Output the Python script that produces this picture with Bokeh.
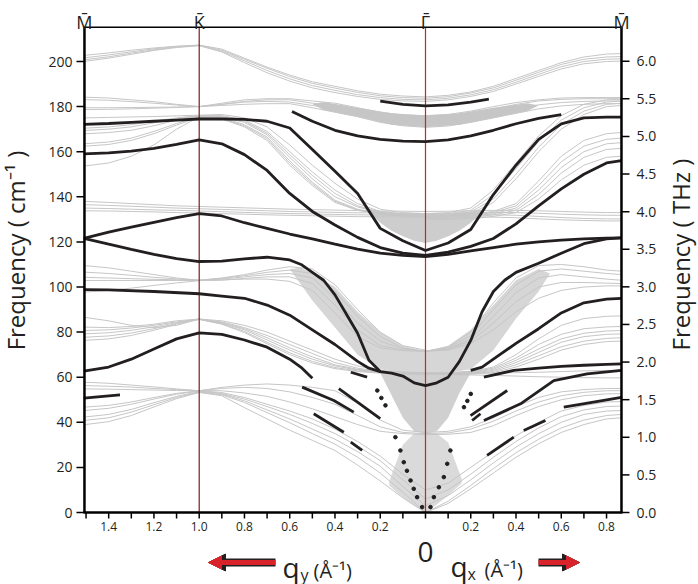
import math
from bokeh.plotting import figure
from bokeh.models import Range1d, Arrow, NormalHead
from bokeh.core.properties import value
from bokeh.embed import file_html
from bokeh.resources import INLINE

# ---------------- data ----------------
XL = [-1.51, -1.4, -1.3, -1.2, -1.1, -1.0, -0.9, -0.8, -0.7, -0.6, -0.5, -0.4, -0.3, -0.2, -0.1, 0.0]
XR = [0.0, 0.1, 0.2, 0.3, 0.4, 0.5, 0.6, 0.7, 0.8, 0.866]

top_labels = ["M\u0304", "K\u0304", "\u0393\u0304", "M\u0304"]
top_label_x = [-1.507, -1.0, 0.0, 0.866]
cm_ticks = [0, 20, 40, 60, 80, 100, 120, 140, 160, 180, 200]
thz_ticks = [0.0, 0.5, 1.0, 1.5, 2.0, 2.5, 3.0, 3.5, 4.0, 4.5, 5.0, 5.5, 6.0]
q_ticks = [round(i * 0.1, 1) for i in range(-15, 9)]

g_top_L = [
    [202.7, 203.8, 205, 206, 206.8, 207.3, 205.5, 201.5, 197.5, 194, 191, 189, 187, 185.5, 184.7, 184.3],
    [201.6, 202.9, 204.3, 205.6, 206.6, 207.2, 205, 201, 197, 193.3, 190.3, 188.2, 186.3, 184.8, 184, 183.7],
    [200.7, 202.1, 203.7, 205.2, 206.4, 207.1, 204.6, 200.3, 196, 192.3, 189.3, 187.2, 185.3, 184, 183.2, 183],
    [200, 201.5, 203.2, 204.9, 206.2, 207, 204.2, 199.5, 195, 191.3, 188.3, 186.2, 184.5, 183.2, 182.5, 182.3],
]
g_top_R = [
    [184.3, 185, 186.5, 189, 192.5, 196, 199.5, 202, 203.3, 203.5],
    [183.7, 184.4, 186, 188.3, 191.7, 195.2, 198.7, 201, 202, 202.2],
    [183, 183.7, 185.2, 187.5, 190.8, 194.3, 197.7, 200, 201, 201.2],
    [182.3, 183, 184.5, 186.7, 190, 193.4, 196.7, 199, 200, 200.2],
]
g2_L = [
    [184.2, 183.8, 183, 182.2, 181, 180, 181.5, 183, 183.5, 183.5, 182.5, 181.5, 179.5, 177.5, 176.3, 176],
    [183.1, 182.8, 182.2, 181.5, 180.7, 180, 181, 182.3, 183, 183, 181.5, 180.5, 178.5, 176.5, 175.2, 175],
    [179.5, 179.5, 179.6, 179.7, 179.8, 180, 181, 182, 182.3, 182, 180.5, 179, 177, 175, 173.5, 173],
    [178.7, 178.8, 179, 179.3, 179.6, 180, 180.5, 181, 181.3, 181.3, 179.5, 177.5, 175.5, 173, 171.5, 170.8],
]
g2_R = [
    [176, 176.5, 178, 180, 181.8, 183, 183.8, 184, 184, 184],
    [175, 175.5, 177, 179, 181, 182.5, 183.2, 183.5, 183.5, 183.5],
    [173, 173.6, 175, 177, 179, 180.8, 181.8, 182.3, 182.5, 182.5],
    [170.8, 171.4, 173, 175, 177, 179, 180.3, 181, 181.3, 181.3],
]
g3_L = [
    [175, 175.2, 175.4, 175.6, 175.9, 176.2, 176.5, 175, 171, 163, 154, 146, 139, 134.5, 133, 132.5],
    [170.4, 171, 172, 173.5, 175, 176, 176, 174, 169, 160, 151, 143, 137, 133.5, 132.5, 132],
    [169.4, 170, 171, 172.8, 174.6, 175.9, 175.6, 173.5, 168.2, 158.7, 149.5, 141.5, 136, 133.2, 132.2, 131.8],
    [167.9, 168.5, 169.5, 171.5, 174, 175.8, 175.5, 173, 167.5, 157.5, 148, 140, 135.5, 133, 132, 131.7],
    [163.5, 164.3, 166, 169, 172.5, 175.5, 175, 172, 166.5, 156, 146.5, 138.5, 134.5, 132.5, 131.7, 131.3],
    [162.4, 163.2, 165, 168, 171.8, 175.3, 174.8, 171.5, 165.8, 155, 145.8, 138, 134.2, 132.4, 131.6, 131.2],
    [153.6, 155, 158, 163, 170, 175.5, 174.5, 171, 165, 154, 145, 137.5, 134, 132.3, 131.5, 131],
]
g3_R = [
    [132.5, 133, 135, 143, 155, 167, 176, 181, 183, 183.3],
    [132, 132.5, 134, 141, 152.5, 164.5, 174, 179.5, 182, 182.5],
    [131.7, 132, 133.3, 139, 150, 162, 172, 178, 181, 181.5],
    [131.3, 131.6, 132.6, 137.5, 148, 160, 170, 176.5, 180, 180.5],
]
g4_L = [
    [138, 137.5, 137, 136.5, 136, 135.7, 135.4, 135.1, 134.8, 134.5, 134.3, 134.1, 133.9, 133.7, 133.6, 133.5],
    [136.5, 136.2, 135.8, 135.4, 135, 134.7, 134.4, 134.1, 133.8, 133.5, 133.3, 133.1, 132.9, 132.8, 132.7, 132.6],
    [135, 134.8, 134.5, 134.2, 134, 133.7, 133.4, 133.1, 132.8, 132.6, 132.4, 132.2, 132, 131.9, 131.8, 131.8],
    [133.8, 133.7, 133.5, 133.3, 133, 132.8, 132.5, 132.3, 132, 131.8, 131.6, 131.4, 131.2, 131.1, 131, 131],
]
g4_R = [
    [133.5, 133.6, 133.8, 134, 134, 133.8, 133.5, 133.2, 133, 133],
    [132.6, 132.7, 132.8, 133, 133, 132.7, 132.3, 132, 131.8, 131.8],
    [131.8, 131.8, 131.9, 132, 131.8, 131.3, 130.8, 130.4, 130.2, 130.2],
    [131, 131, 131, 131, 130.7, 130.2, 129.8, 129.5, 129.3, 129.3],
]
g5_R = [
    [132, 132, 132.3, 133.5, 137, 147, 158, 165, 168, 168.5],
    [131.5, 131.5, 131.8, 133, 136, 145, 155.5, 162.5, 165.5, 166],
    [131, 131, 131.3, 132.5, 135, 143, 153, 160, 163.5, 164],
    [130.5, 130.5, 130.8, 132, 134, 141, 150.5, 157.5, 161, 161.5],
    [130, 130, 130.2, 131.3, 133, 139, 147.5, 154, 157.5, 158],
]
g6_L = [
    [109.5, 108.5, 107, 105.5, 104, 103, 104, 105.5, 107.5, 109, 108, 101, 90, 80, 74, 72],
    [106.6, 106, 105.2, 104.3, 103.6, 103, 103.8, 105, 106.5, 107.5, 106, 98, 87, 78, 73, 71.5],
    [104.3, 104, 103.7, 103.4, 103.2, 103, 103.5, 104.5, 105.5, 106, 104, 95, 84, 76, 72.5, 71.5],
    [102.9, 102.9, 102.9, 102.9, 102.9, 102.9, 103, 103.8, 104.5, 104.5, 101.5, 92, 81, 74, 72, 71.5],
    [97.7, 98.5, 99.5, 100.7, 101.8, 102.8, 103.2, 103.5, 103.5, 102.5, 98.5, 88.5, 78, 73, 71.8, 71.5],
]
g6_R = [
    [71.5, 73.5, 80, 93, 104, 109.5, 110, 109, 107.5, 107],
    [71.5, 73, 78.5, 90, 101, 107, 108, 107, 106, 105.5],
    [71.5, 72.5, 77, 87, 97.5, 104, 105.5, 104.5, 103.5, 103],
    [71.5, 72.5, 76, 84, 93.5, 100, 102, 102, 101.7, 101.5],
    [71.5, 72, 75, 81, 89, 95, 98.5, 100, 100.5, 100.5],
]
g7_L = [
    [86.6, 85, 83, 82, 83, 85.8, 85, 83, 80, 76, 72, 68, 65, 63, 62.3, 62],
    [82.2, 82, 82.5, 83.5, 85, 85.8, 84.5, 82, 78.5, 74.5, 70.5, 66.5, 64, 62.5, 62, 61.8],
    [80.7, 81, 81.8, 83, 84.5, 85.8, 84.2, 81.5, 77.5, 73, 69, 65.5, 63.5, 62.3, 61.8, 61.6],
    [79.2, 79.7, 80.8, 82.3, 84.2, 85.7, 84, 81, 76.5, 72, 68, 65, 63.2, 62.2, 61.7, 61.5],
    [77.7, 78.3, 79.6, 81.5, 83.8, 85.7, 83.7, 80.3, 75.5, 70.8, 67, 64.3, 62.8, 62, 61.6, 61.4],
    [76.3, 77, 78.5, 80.8, 83.5, 85.6, 83.5, 79.8, 74.8, 70, 66.3, 63.8, 62.5, 61.8, 61.5, 61.3],
]
g7_R = [
    [62, 62, 62.5, 64.5, 70, 77, 83, 86, 87, 87.2],
    [61.8, 61.8, 62.2, 64, 68.5, 74.5, 79, 81.5, 82.3, 82.5],
    [61.6, 61.6, 62, 63.5, 67.5, 72.5, 77, 79.5, 80.5, 80.7],
    [61.5, 61.5, 61.8, 63, 66.5, 71, 75.5, 78, 79, 79.2],
    [61.4, 61.4, 61.6, 62.5, 65.5, 69.5, 73.5, 76, 77.2, 77.5],
    [61.3, 61.3, 61.4, 62, 64.5, 68, 72, 74.5, 75.8, 76],
    [61.8, 61.8, 61.8, 61.9, 62, 62.2, 62.5, 62.8, 63, 63],
    [61.2, 61.2, 61, 60.8, 60.5, 60.2, 60, 59.8, 59.7, 59.7],
]
g8_L = [
    [57.8, 57.3, 56.5, 55.7, 54.8, 54, 55.5, 56.5, 57, 56.5, 55.5, 54, 48.5, 41, 36.5, 35.5],
    [56.3, 56, 55.6, 55, 54.5, 54, 55, 55.5, 55, 53.5, 51, 48, 43, 38, 35.5, 35],
    [54.8, 54.7, 54.5, 54.3, 54.1, 54, 54, 53, 51.5, 49, 46, 42.5, 39, 36, 35, 34.5],
    [46.7, 47.5, 49, 51, 52.8, 54, 53.2, 51, 48, 45, 41.5, 37, 31.5, 25, 17, 10],
    [45.2, 46.2, 48, 50.3, 52.5, 53.8, 52.8, 50.3, 47, 43.5, 39.5, 35, 29.5, 23, 14.5, 6],
    [42.3, 43.5, 45.7, 48.7, 51.5, 53.6, 52.5, 49.5, 45.5, 41.5, 37, 32.5, 27, 20.5, 11.5, 3],
    [40.8, 42, 44.5, 47.8, 51, 53.4, 52.2, 48.8, 44.3, 39.8, 35, 30.3, 24.5, 17.5, 9, 0],
    [38.9, 40.3, 43, 46.8, 50.5, 53.2, 51.8, 46.5, 41.5, 36.5, 32, 27.5, 21, 14, 6.5, 0],
]
g8_R = [
    [35.5, 36, 38, 42, 47, 51, 53.5, 54.5, 55, 55],
    [35, 35.3, 37, 40.5, 45, 49, 51.8, 53.3, 54, 54],
    [34.5, 34.7, 35.5, 38.5, 43, 47, 50, 51.8, 52.6, 52.7],
    [10, 13, 20, 27, 34, 40, 45, 47.5, 49, 49.2],
    [6, 10, 17, 24.5, 31.5, 37.5, 42.5, 45.5, 47, 47.2],
    [3, 7.5, 14.5, 22, 29, 35, 40, 43.5, 45, 45.2],
    [0, 5, 12, 19.5, 26.5, 32.5, 37.5, 41, 43, 43.5],
    [0, 4, 10.5, 17.5, 24.5, 30.5, 35.5, 39, 41.5, 42],
]

band_x = [-0.5, -0.45, -0.3, -0.15, 0, 0.15, 0.3, 0.45, 0.5]
band_lo = [181, 178.5, 175.5, 172, 170.8, 172, 175, 178, 180.5]
band_hi = [181, 182, 179.5, 177, 176, 177, 179.5, 181.5, 180.5]
bowl_x = [-0.25, -0.2, -0.15, -0.1, -0.05, 0, 0.05, 0.1, 0.15, 0.2, 0.25]
bowl_lo = [133, 128.5, 125, 122.5, 120.5, 119.5, 120.5, 122.5, 125, 128.5, 133]
bowl_hi = [134, 133.5, 133, 132.5, 132.2, 132, 132.2, 132.5, 133, 133.5, 134]
funnel_x = [-0.6, -0.55, -0.5, -0.4, -0.3, -0.2, -0.1, 0, 0.1, 0.2, 0.3, 0.4, 0.5, 0.55]
funnel_hi = [108, 108.5, 106, 100, 89, 80, 74, 71.5, 74, 81, 92, 103, 108, 106]
funnel_lo = [108, 101, 94, 82, 70, 63.5, 62, 61.5, 62, 63.5, 72, 86, 98, 106]
col_x = [-0.2, -0.15, -0.1, -0.05, 0, 0.05, 0.1, 0.15, 0.2]
col_lo = [62, 52, 42, 36, 35, 36, 42, 53, 62]
col_hi = [63, 62.5, 62, 62, 62, 62, 62, 62.5, 63]
ac_x = [-0.16, -0.1, -0.05, 0, 0.05, 0.1, 0.16]
ac_lo = [12, 6.5, 3, 0, 3.5, 7.5, 13]
ac_hi = [14, 30, 35, 35, 35, 31, 15]

b1_x = [-0.2, -0.1, 0, 0.1, 0.2, 0.28]
b1_y = [182.4, 181, 180.3, 180.8, 182, 183.3]
b2_x = [-0.59, -0.5, -0.4, -0.3, -0.2, -0.1, 0, 0.1, 0.2, 0.3, 0.4, 0.5, 0.6]
b2_y = [177.8, 173.5, 169.5, 167, 165.5, 164.7, 164.5, 165.2, 167, 169.5, 172.4, 174.8, 176.4]
b3_yL = [172.1, 172.5, 173, 173.5, 174, 174.5, 174.5, 174.3, 173.5, 170.5, 161, 151.3, 141.5, 126, 120.5, 116.2]
b3_yR = [116.2, 119.5, 125.5, 141, 154, 165.5, 172.3, 175, 175.3, 175.3]
b4_yL = [159, 159.5, 160.3, 161.5, 163.2, 165.2, 163.5, 158.7, 151.7, 141.5, 133.5, 127.5, 122, 117.5, 115, 114]
b4_yR = [114, 115.5, 118, 121.5, 128, 136, 143.5, 150, 155, 156]
b5_yL = [121.6, 124.3, 126.6, 128.7, 130.8, 132.5, 131.5, 128.5, 126, 123.5, 121.3, 119, 116.8, 115, 114, 113.5]
b5_yR = [113.5, 114.5, 116, 117.5, 119, 120, 120.8, 121.3, 121.7, 121.8]
b7_x = [-1.51, -1.4, -1.3, -1.2, -1.1, -1.0, -0.9, -0.8, -0.7, -0.6, -0.55, -0.5, -0.45, -0.4, -0.35,
        -0.3, -0.25, -0.2, -0.15, -0.1, -0.05, 0, 0.05, 0.1, 0.15, 0.2, 0.25, 0.3, 0.35, 0.4, 0.5,
        0.6, 0.7, 0.8, 0.866]
b7_y = [121.6, 119, 116.7, 114.5, 112.6, 111.3, 111.5, 112.5, 113.2, 112, 110, 106.5, 103, 96.5, 88,
        79.5, 67.5, 62.5, 61.8, 60.5, 57.5, 56.3, 57.5, 60, 67, 76.3, 89, 98, 103, 106.5, 110.5,
        115, 119.2, 121.3, 121.8]
b8L_x = [-1.51, -1.4, -1.2, -1.0, -0.9, -0.8, -0.7, -0.6, -0.5, -0.4, -0.3, -0.25, -0.2]
b8L_y = [98.8, 98.7, 98, 97, 96, 95, 92, 87.5, 81, 74.5, 67, 64, 62.5]
b8R_x = [0.2, 0.25, 0.3, 0.4, 0.5, 0.6, 0.7, 0.8, 0.866]
b8R_y = [63, 64.5, 68, 75, 81.5, 88.5, 93, 94.6, 95]
b9_x = [-1.51, -1.4, -1.3, -1.2, -1.1, -1.0, -0.9, -0.8, -0.7, -0.6, -0.55, -0.5]
b9_y = [62.7, 64.5, 68, 72.5, 77, 79.7, 79, 76.5, 73.3, 68, 64.4, 59.5]
b9R_x = [0.258, 0.39, 0.5, 0.6, 0.7, 0.8, 0.866]
b9R_y = [60, 63, 64, 64.8, 65.3, 65.7, 65.9]
seg_x = [[-1.51, -1.35], [-0.545, -0.405, -0.317], [-0.494, -0.361], [-0.33, -0.28],
         [-0.383, -0.2], [-0.33, -0.258], [0.199, 0.361], [0.206, 0.243],
         [0.258, 0.42, 0.567, 0.714, 0.866], [0.272, 0.39], [0.434, 0.53], [0.611, 0.866]]
seg_y = [[50.7, 52.2], [55.6, 49.7, 44.5], [43.8, 35.6], [31.2, 27.5],
         [54.9, 41.6], [62.2, 60], [43, 54.1], [40.8, 43.8],
         [40.8, 48.2, 58.5, 61.5, 63], [25.3, 33.4], [36.4, 40.8], [46.7, 51.1]]
dots_x = [-0.015, -0.037, -0.052, -0.066, -0.082, -0.096, -0.111, -0.133, -0.213, -0.195, -0.177,
          0.022, 0.037, 0.059, 0.081, 0.096, 0.11, 0.17, 0.185, 0.2]
dots_y = [2.4, 6.8, 10.5, 14.2, 18.5, 22.3, 27.5, 33.4, 54.1, 50.8, 47.5,
          2.4, 6.8, 11.2, 15.7, 21.6, 27.5, 46.7, 49.5, 52.6]

# ---------------- geometry ----------------
W, H = 698, 584
PX = 226.3          # pixels per 1/Angstrom
PY = 2.255          # pixels per cm^-1
X0PX, Y0PY = 425.0, 512.0   # pixel position of (Gamma, 0)
THZ = 33.356
XMIN, XMAX, YTOP = -1.507, 0.866, 215.2
GREY = "#c6c6c6"
DARK = "#231f20"
FONT = "Open Sans"


def dx(pixels):
    return pixels / PX


def dy(pixels):
    return pixels / PY


p = figure(width=W, height=H,
           x_range=Range1d(-X0PX / PX, (W - X0PX) / PX),
           y_range=Range1d(-(H - Y0PY) / PY, Y0PY / PY),
           output_backend="svg", toolbar_location=None, title=None,
           x_axis_location=None, y_axis_location=None,
           min_border=0, min_border_left=0, min_border_right=0,
           min_border_top=0, min_border_bottom=0)
p.grid.visible = False
p.outline_line_color = None
p.background_fill_color = "white"

# dense grey areas
p.varea(x=band_x, y1=band_lo, y2=band_hi, fill_color=GREY)
p.varea(x=bowl_x, y1=bowl_lo, y2=bowl_hi, fill_color="#cdcdcd")
p.varea(x=funnel_x, y1=funnel_lo, y2=funnel_hi, fill_color="#d6d6d6")
p.varea(x=col_x, y1=col_lo, y2=col_hi, fill_color="#d0d0d0")
p.varea(x=ac_x, y1=ac_lo, y2=ac_hi, fill_color="#dadada")

for famL in [g_top_L, g2_L, g3_L, g4_L, g6_L, g7_L, g8_L]:
    p.multi_line(xs=[XL] * len(famL), ys=famL, line_color=GREY, line_width=1)
for famR in [g_top_R, g2_R, g3_R, g4_R, g5_R, g6_R, g7_R, g8_R]:
    p.multi_line(xs=[XR] * len(famR), ys=famR, line_color=GREY, line_width=1)

# K and Gamma markers
p.segment(x0=[top_label_x[1]], y0=[0], x1=[top_label_x[1]], y1=[YTOP], line_color="#7a1c1c", line_width=1.2)
p.segment(x0=[top_label_x[2]], y0=[0], x1=[top_label_x[2]], y1=[YTOP], line_color="#d0202a", line_width=1.2)

# dark branches
XLR = XL + XR[1:]
for bx, by in [(b1_x, b1_y), (b2_x, b2_y), (XLR, b3_yL + b3_yR[1:]), (XLR, b4_yL + b4_yR[1:]),
               (XLR, b5_yL + b5_yR[1:]), (b7_x, b7_y), (b8L_x, b8L_y), (b8R_x, b8R_y),
               (b9_x, b9_y), (b9R_x, b9R_y)]:
    p.line(bx, by, line_color=DARK, line_width=2.8)
p.multi_line(xs=seg_x, ys=seg_y, line_color=DARK, line_width=2.8)
p.scatter(dots_x, dots_y, size=3.6, color=DARK)

# ---------------- axes (frame, ticks, tick labels) ----------------
p.segment(x0=[XMIN], y0=[YTOP], x1=[XMAX], y1=[YTOP], line_color="black", line_width=1.5)
p.segment(x0=[XMIN, XMAX], y0=[0, 0], x1=[XMIN, XMAX], y1=[YTOP, YTOP], line_color="black", line_width=2.5)
p.segment(x0=[XMIN - dx(1)], y0=[0], x1=[XMAX + dx(1)], y1=[0], line_color="black", line_width=2.5)

# left (cm^-1)
p.segment(x0=[XMIN] * len(cm_ticks), y0=cm_ticks, x1=[XMIN - dx(8)] * len(cm_ticks), y1=cm_ticks,
          line_color="black", line_width=1.5)
p.text(x=[XMIN - dx(12)] * len(cm_ticks), y=cm_ticks, text=[str(t) for t in cm_ticks],
       text_align="right", text_baseline="middle", text_font=value(FONT),
       text_font_size="14px", text_color=DARK)
# right (THz)
thz_y = [t * THZ for t in thz_ticks]
p.segment(x0=[XMAX] * len(thz_y), y0=thz_y, x1=[XMAX + dx(8)] * len(thz_y), y1=thz_y,
          line_color="black", line_width=1.5)
p.text(x=[XMAX + dx(15)] * len(thz_y), y=thz_y, text=["%.1f" % t for t in thz_ticks],
       text_align="left", text_baseline="middle", text_font=value(FONT),
       text_font_size="14px", text_color=DARK)
# bottom (q)
p.segment(x0=q_ticks, y0=[0] * len(q_ticks), x1=q_ticks, y1=[-dy(6)] * len(q_ticks),
          line_color="black", line_width=1.5)
q_lab = [t for t in q_ticks if round(abs(t) * 10) % 2 == 0 and abs(t) > 1e-9]
p.text(x=q_lab, y=[-dy(9)] * len(q_lab), text=["%.1f" % abs(t) for t in q_lab],
       text_align="center", text_baseline="top", text_font=value(FONT),
       text_font_size="12px", text_color=DARK)

# ---------------- other texts ----------------
def ylab(py):
    return (Y0PY - py) / PY


def xlab(px):
    return (px - X0PX) / PX


p.text(x=top_label_x, y=[ylab(21)] * 4, text=top_labels, text_align="center",
       text_baseline="alphabetic", text_font=value(FONT), text_font_size="18px", text_color=DARK)

p.text(x=[xlab(15)], y=[ylab(250)], text=["Frequency ( cm\u207b\u00b9 )"], angle=math.pi / 2,
       text_align="center", text_baseline="alphabetic", text_font=value(FONT),
       text_font_size="24px", text_color=DARK)
p.text(x=[xlab(680)], y=[ylab(254)], text=["Frequency ( THz )"], angle=math.pi / 2,
       text_align="center", text_baseline="alphabetic", text_font=value(FONT),
       text_font_size="24px", text_color=DARK)

p.text(x=[0], y=[ylab(551)], text=["0"], text_align="center", text_baseline="alphabetic",
       text_font=value(FONT), text_font_size="28px", text_color=DARK)

p.text(x=[xlab(282), xlab(450)], y=[ylab(566), ylab(565)], text=["q", "q"], text_align="left",
       text_baseline="alphabetic", text_font=value(FONT), text_font_size="28px", text_color=DARK)
p.text(x=[xlab(300), xlab(467)], y=[ylab(574), ylab(573)], text=["y", "x"], text_align="left",
       text_baseline="alphabetic", text_font=value(FONT), text_font_size="16px", text_color=DARK)
p.text(x=[xlab(313), xlab(484)], y=[ylab(570), ylab(569)], text=["(\u00c5\u207b\u00b9)", "(\u00c5\u207b\u00b9)"],
       text_align="left", text_baseline="alphabetic", text_font=value(FONT),
       text_font_size="20px", text_color=DARK)

for xs, xe in [(xlab(275), xlab(208)), (xlab(538), xlab(579))]:
    p.add_layout(Arrow(x_start=xs, y_start=ylab(562), x_end=xe, y_end=ylab(562),
                       line_color=DARK, line_width=8,
                       end=NormalHead(size=17, fill_color=DARK, line_color=DARK)))
    p.add_layout(Arrow(x_start=xs, y_start=ylab(562), x_end=xe, y_end=ylab(562),
                       line_color="#d9232a", line_width=5,
                       end=NormalHead(size=13, fill_color="#d9232a", line_color="#d9232a")))

open("out.html", "w").write(file_html(p, INLINE))
